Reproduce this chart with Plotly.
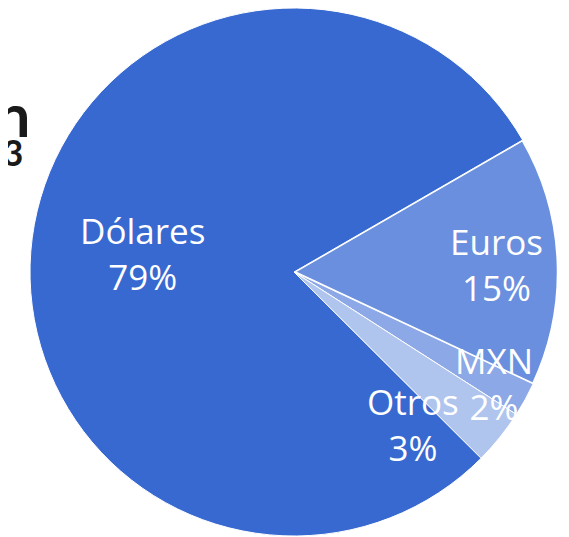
import plotly.graph_objects as go

labels = ["Euros", "MXN", "Otros", "Dólares"]
values = [15.3, 2.1, 3.4, 79.2]
colors = ["#6A8FDE", "#8CA8E6", "#B0C5EE", "#3769D1"]
border_widths = [2.5, 1, 1, 1]

title_line1 = "Deuda por moneda de denominación"
title_line2 = "Saldo al cierre de 2023"

# label block centers in page pixels (layout only)
label_pos = [(496, 264), (494, 383), (413, 424), (142, 253)]

W, H = 569, 537
OFF = 8  # default body margin of the html page
ml, mr, mt, mb = 22, 19, 0, 9
pw, ph = W - ml - mr, H - mt - mb


def px_x(p):
    return (p - OFF - ml) / pw


def px_y(p):
    return 1 - (p - OFF - mt) / ph


total = sum(values)
pct_text = [f"{round(v / total * 100)}%" for v in values]

fig = go.Figure(go.Pie(
    labels=labels,
    values=values,
    sort=False,
    direction="clockwise",
    rotation=60,
    marker=dict(colors=colors, line=dict(color="white", width=border_widths)),
    textinfo="none",
    hoverinfo="label+percent",
    showlegend=False,
))

annotations = []
for lab, pct, (x, y) in zip(labels, pct_text, label_pos):
    annotations.append(dict(
        text=f"{lab}<br>{pct}", xref="paper", yref="paper",
        x=px_x(x), y=px_y(y), xanchor="center", yanchor="middle",
        showarrow=False, align="center",
        font=dict(size=35, color="white", family="Open Sans"),
    ))

annotations += [
    dict(text="<b>" + title_line1 + "</b>", xref="paper", yref="paper",
         x=px_x(32), y=px_y(114), xanchor="right", yanchor="middle",
         showarrow=False, font=dict(size=60, color="#1a1a1a", family="Lato")),
    dict(text="<b>" + title_line2 + "</b>", xref="paper", yref="paper",
         x=px_x(26), y=px_y(152), xanchor="right", yanchor="middle",
         showarrow=False, font=dict(size=36, color="#1a1a1a", family="Lato")),
]

fig.update_layout(
    width=W, height=H,
    margin=dict(l=ml, r=mr, t=mt, b=mb),
    paper_bgcolor="white",
    plot_bgcolor="white",
    font=dict(family="Open Sans"),
    annotations=annotations,
)

fig.write_html("out.html")
